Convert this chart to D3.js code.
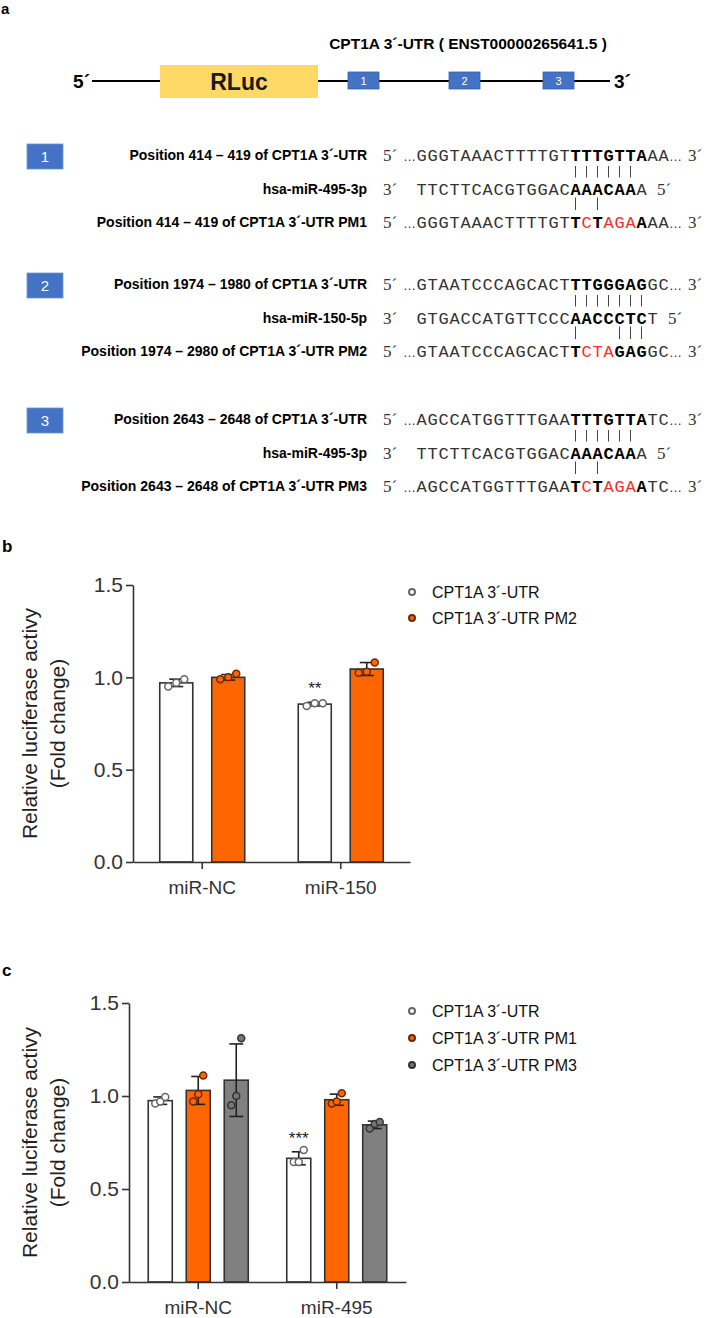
<!DOCTYPE html>
<html>
<head>
<meta charset="utf-8">
<script src="https://cdn.jsdelivr.net/npm/d3@7"></script>
<style>
  body { margin: 0; background: #fff; }
</style>
</head>
<body>
<div id="fig"></div>
<script>
// ---------- panel a data ----------
const utrTitle = "CPT1A  3´-UTR ( ENST00000265641.5 )";
const siteNames = ["1", "2", "3"];
const siteLabels = [
    ["Position 414 – 419 of CPT1A 3´-UTR", "hsa-miR-495-3p", "Position 414 – 419 of CPT1A 3´-UTR PM1"],
    ["Position 1974 – 1980 of CPT1A 3´-UTR", "hsa-miR-150-5p", "Position 1974 – 2980 of CPT1A 3´-UTR PM2"],
    ["Position 2643 – 2648 of CPT1A 3´-UTR", "hsa-miR-495-3p", "Position 2643 – 2648 of CPT1A 3´-UTR PM3"]
];
// n = normal, b = bold, r = red (mutated)
const targetSeqs = ["GGGTAAACTTTTGTTTTGTTAAA", "GTAATCCCAGCACTTTGGGAGGC", "AGCCATGGTTTGAATTTGTTATC"];
const targetStyles = ["nnnnnnnnnnnnnnbbbbbbbnn", "nnnnnnnnnnnnnnbbbbbbbnn", "nnnnnnnnnnnnnnbbbbbbbnn"];
const mirSeqs = ["TTCTTCACGTGGACAAACAAA", "GTGACCATGTTCCCAACCCTCT", "TTCTTCACGTGGACAAACAAA"];
const mirStyles = ["nnnnnnnnnnnnnnbbbbbbn", "nnnnnnnnnnnnnnbbbbbbbn", "nnnnnnnnnnnnnnbbbbbbn"];
const mutSeqs = ["GGGTAAACTTTTGTTCTAGAAAA", "GTAATCCCAGCACTTCTAGAGGC", "AGCCATGGTTTGAATCTAGAATC"];
const mutStyles = ["nnnnnnnnnnnnnnbrbrrrbnn", "nnnnnnnnnnnnnnbrrrbbbnn", "nnnnnnnnnnnnnnbrbrrrbnn"];
const pairsTop = [[14, 15, 16, 17, 18, 19], [14, 15, 16, 17, 18, 19, 20], [14, 15, 16, 17, 18, 19]];
const pairsBottom = [[14, 16], [14, 18, 19, 20], [14, 16]];

// ---------- panel b data ----------
const groupsB = ["miR-NC", "miR-150"];
const seriesB = ["CPT1A 3´-UTR", "CPT1A 3´-UTR PM2"];
const meansB = [[0.97, 0.855], [1.00, 1.045]];          // series x group
const sdsB = [[0.02, 0.01], [0.015, 0.035]];
const pointsB = [
    [[0.95, 0.97, 0.99], [0.845, 0.86, 0.86]],
    [[0.99, 1.00, 1.02], [1.025, 1.03, 1.08]]
];
const starsB = [["", "**"], ["", ""]];

// ---------- panel c data ----------
const groupsC = ["miR-NC", "miR-495"];
const seriesC = ["CPT1A 3´-UTR", "CPT1A 3´-UTR PM1", "CPT1A 3´-UTR PM3"];
const meansC = [[0.975, 0.665], [1.03, 0.98], [1.085, 0.845]];
const sdsC = [[0.02, 0.035], [0.075, 0.03], [0.195, 0.02]];
const pointsC = [
    [[0.96, 0.97, 0.995], [0.645, 0.645, 0.71]],
    [[0.97, 1.01, 1.11], [0.96, 0.97, 1.015]],
    [[0.95, 1.00, 1.31], [0.825, 0.85, 0.86]]
];
const starsC = [["", "***"], ["", ""], ["", ""]];

const yTicks = [0, 0.5, 1.0, 1.5];
const yLabel = ["Relative luciferase activy", "(Fold change)"];

const barFill = ["#ffffff", "#ff6600", "#808080"];
const dotFill = ["#ffffff", "#ff6600", "#777777"];
const dotStroke = ["#666666", "#6b2a00", "#333333"];

const W = 706, H = 1318;
const svg = d3.select("#fig").append("svg")
    .attr("width", W)
    .attr("height", H)
    .style("font-family", "'Liberation Sans', Arial, sans-serif");

// ---------- panel a ----------
svg.append("text").attr("x", 1).attr("y", 14).text("a")
    .style("font-size", "15px").style("font-weight", "bold");

svg.append("text").attr("x", 468).attr("y", 49).attr("text-anchor", "middle")
    .text(utrTitle).style("font-size", "15.5px").style("font-weight", "bold");

svg.append("line").attr("x1", 92).attr("x2", 610).attr("y1", 81).attr("y2", 81)
    .attr("stroke", "#000").attr("stroke-width", 2);
svg.append("text").attr("x", 90).attr("y", 88).attr("text-anchor", "end").text("5´")
    .style("font-size", "19px").style("font-weight", "bold");
svg.append("text").attr("x", 614).attr("y", 88).text("3´")
    .style("font-size", "19px").style("font-weight", "bold");
svg.append("rect").attr("x", 160).attr("y", 65).attr("width", 158).attr("height", 33)
    .attr("fill", "#ffd966");
svg.append("text").attr("x", 239).attr("y", 90).attr("text-anchor", "middle").text("RLuc")
    .style("font-size", "23px").style("font-weight", "bold").attr("fill", "#1a1a1a");

const siteX = [348, 449, 543];
siteNames.forEach((s, i) => {
    svg.append("rect").attr("x", siteX[i]).attr("y", 72).attr("width", 31).attr("height", 17)
        .attr("fill", "#4472c4").attr("stroke", "#3560ad").attr("stroke-width", 0.8);
    svg.append("text").attr("x", siteX[i] + 15.5).attr("y", 85).attr("text-anchor", "middle")
        .text(s).attr("fill", "#fff").style("font-size", "11px");
});

// sequence columns
const cw = 11, seqX0 = 416;
const col = d3.scaleLinear().domain([0, 1]).range([seqX0 + cw / 2, seqX0 + cw * 1.5]);
const monoFont = "'Liberation Mono', 'Courier New', monospace";
const markFont = "'Liberation Serif', serif";

function drawSeq(y, seq, style) {
    seq.split("").forEach((ch, i) => {
        const st = style[i];
        svg.append("text")
            .attr("x", col(i)).attr("y", y + 6)
            .attr("text-anchor", "middle")
            .text(ch)
            .style("font-family", monoFont)
            .style("font-size", "17px")
            .style("font-weight", st === "b" ? "bold" : "normal")
            .attr("fill", st === "r" ? "#ff2a2a" : (st === "b" ? "#000" : "#333"));
    });
}

function endMark(x, y, t) {
    svg.append("text").attr("x", x).attr("y", y + 6).text(t)
        .style("font-family", markFont).style("font-size", "17px").attr("fill", "#333");
}

const blockY = [155, 284, 419];
const rowGap = 33.5;

siteNames.forEach((s, k) => {
    const ys = [blockY[k], blockY[k] + rowGap, blockY[k] + rowGap * 2];

    svg.append("rect").attr("x", 27).attr("y", ys[0] - 11).attr("width", 36).attr("height", 25)
        .attr("fill", "#4472c4").attr("stroke", "#6e93d6").attr("stroke-width", 0.8);
    svg.append("text").attr("x", 45).attr("y", ys[0] + 7).attr("text-anchor", "middle")
        .text(s).attr("fill", "#fff").style("font-size", "15px");

    siteLabels[k].forEach((lab, r) => {
        svg.append("text").attr("x", 367).attr("y", ys[r] + 5).attr("text-anchor", "end")
            .text(lab).style("font-size", "14px").style("font-weight", "bold");
    });

    // target rows
    [[targetSeqs[k], targetStyles[k], ys[0]], [mutSeqs[k], mutStyles[k], ys[2]]].forEach(([seq, st, y]) => {
        endMark(383, y, "5´");
        svg.append("text").attr("x", 403).attr("y", y + 6).text("…").style("font-size", "13px").attr("fill", "#333");
        drawSeq(y, seq, st);
        svg.append("text").attr("x", seqX0 + seq.length * cw).attr("y", y + 6).text("…")
            .style("font-size", "13px").attr("fill", "#333");
        endMark(688, y, "3´");
    });

    // miRNA row
    endMark(383, ys[1], "3´");
    drawSeq(ys[1], mirSeqs[k], mirStyles[k]);
    endMark(seqX0 + mirSeqs[k].length * cw + 10, ys[1], "5´");

    pairsTop[k].forEach(i => {
        svg.append("line").attr("x1", col(i)).attr("x2", col(i))
            .attr("y1", ys[0] + 11).attr("y2", ys[1] - 11)
            .attr("stroke", "#444").attr("stroke-width", 1);
    });
    pairsBottom[k].forEach(i => {
        svg.append("line").attr("x1", col(i)).attr("x2", col(i))
            .attr("y1", ys[1] + 9).attr("y2", ys[2] - 12)
            .attr("stroke", "#444").attr("stroke-width", 1);
    });
});

// ---------- bar charts ----------
function drawBarChart(o) {
    const g = svg.append("g");

    g.append("text").attr("x", 2).attr("y", o.labelY).text(o.letter)
        .style("font-size", "17px").style("font-weight", "bold");

    const y = d3.scaleLinear().domain([0, 1.5]).range([o.yBottom, o.yTop]);
    const x0 = d3.scaleBand().domain(o.groups).range([o.xLeft, o.xRight]).padding(0);
    const x1 = d3.scaleBand().domain(o.series).range([-o.half, o.half]).paddingInner(o.innerPad);

    o.series.forEach((s, si) => {
        o.groups.forEach((grp, gi) => {
            const bx = x0(grp) + x0.bandwidth() / 2 + x1(s);
            const cx = bx + x1.bandwidth() / 2;
            const m = o.means[si][gi], sd = o.sds[si][gi];

            g.append("rect")
                .attr("x", bx).attr("y", y(m))
                .attr("width", x1.bandwidth()).attr("height", y(0) - y(m))
                .attr("fill", barFill[si]).attr("stroke", "#333").attr("stroke-width", 1.6);

            // error bar
            g.append("line").attr("x1", cx).attr("x2", cx).attr("y1", y(m - sd)).attr("y2", y(m + sd))
                .attr("stroke", "#222").attr("stroke-width", 1.6);
            [m - sd, m + sd].forEach(v => {
                g.append("line").attr("x1", cx - o.cap).attr("x2", cx + o.cap).attr("y1", y(v)).attr("y2", y(v))
                    .attr("stroke", "#222").attr("stroke-width", 1.6);
            });

            o.points[si][gi].forEach((v, pi) => {
                g.append("circle")
                    .attr("cx", cx + (pi - 1) * o.jitter).attr("cy", y(v)).attr("r", o.r)
                    .attr("fill", dotFill[si]).attr("stroke", dotStroke[si]).attr("stroke-width", 1.5);
            });

            if (o.stars[si][gi]) {
                g.append("text").attr("x", cx).attr("y", y(m + sd) - 8).attr("text-anchor", "middle")
                    .text(o.stars[si][gi]).style("font-size", "17px").attr("fill", "#222");
            }
        });
    });

    const yAxis = g.append("g").attr("transform", `translate(${o.xLeft},0)`)
        .call(d3.axisLeft(y).tickValues(yTicks).tickFormat(d3.format(".1f")).tickSize(7).tickSizeOuter(0).tickPadding(3));
    const xAxis = g.append("g").attr("transform", `translate(0,${o.yBottom})`)
        .call(d3.axisBottom(x0).tickSize(7).tickSizeOuter(0).tickPadding(12));
    [yAxis, xAxis].forEach(ax => {
        ax.select(".domain").attr("stroke", "#333").attr("stroke-width", 1.6);
        ax.selectAll(".tick line").attr("stroke", "#333").attr("stroke-width", 1.6);
        ax.selectAll(".tick text").attr("fill", "#333")
            .style("font-family", "'Liberation Sans', Arial, sans-serif");
    });
    yAxis.selectAll(".tick text").style("font-size", "21px");
    xAxis.selectAll(".tick text").style("font-size", "19px");

    const mid = (o.yTop + o.yBottom) / 2;
    yLabel.forEach((t, i) => {
        g.append("text")
            .attr("transform", `translate(${37 + i * 28},${mid}) rotate(-90)`)
            .attr("text-anchor", "middle").text(t)
            .style("font-size", "21px").attr("fill", "#222");
    });

    o.series.forEach((s, si) => {
        const ly = o.legendY + si * o.legendGap;
        g.append("circle").attr("cx", 412).attr("cy", ly).attr("r", 3)
            .attr("fill", dotFill[si]).attr("stroke", dotStroke[si]).attr("stroke-width", 2);
        g.append("text").attr("x", 432).attr("y", ly + 6).text(s)
            .style("font-size", "16px").attr("fill", "#111");
    });
}

drawBarChart({
    letter: "b", labelY: 552,
    groups: groupsB, series: seriesB, means: meansB, sds: sdsB, points: pointsB, stars: starsB,
    xLeft: 133, xRight: 410, yTop: 585, yBottom: 862,
    half: 42.5, innerPad: 0.365, cap: 7, jitter: 8, r: 3.5,
    legendY: 592, legendGap: 26
});

drawBarChart({
    letter: "c", labelY: 976,
    groups: groupsC, series: seriesC, means: meansC, sds: sdsC, points: pointsC, stars: starsC,
    xLeft: 129, xRight: 406, yTop: 1003, yBottom: 1282,
    half: 50, innerPad: 0.368, cap: 7, jitter: 5, r: 3.5,
    legendY: 1011, legendGap: 27
});
</script>
</body>
</html>
